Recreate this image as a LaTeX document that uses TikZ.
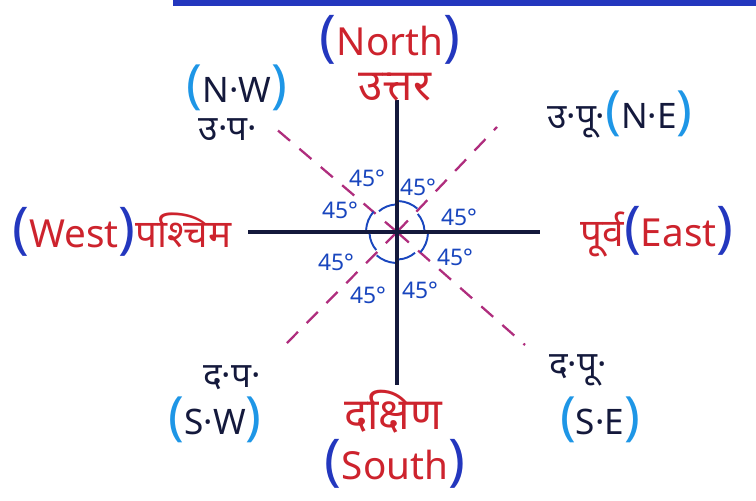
\documentclass[tikz,border=0pt]{standalone}
\usepackage{fontspec}
\setmainfont{Noto Sans}
\newfontfamily\hindi[Script=Devanagari]{Noto Sans}
\usetikzlibrary{calc}
\definecolor{inkred}{RGB}{205,35,45}
\definecolor{inkblue}{RGB}{35,55,190}
\definecolor{inkcyan}{RGB}{30,150,230}
\definecolor{inkmag}{RGB}{175,45,125}
\definecolor{inkdark}{RGB}{20,25,60}
\definecolor{degblue}{RGB}{25,70,190}
\newcommand\bigp[1]{{\fontsize{32}{32}\selectfont\bfseries\textcolor{inkblue}{#1}}}
\newcommand\cyp[1]{{\fontsize{30}{30}\selectfont\bfseries\textcolor{inkcyan}{#1}}}
\newcommand\hin[1]{{\hindi #1}}
\begin{document}
\begin{tikzpicture}[x=0.02cm, y=0.02cm,
  cardlbl/.style={font=\fontsize{22}{24}\selectfont, text=inkred, inner sep=1pt},
  hinlbl/.style={font=\fontsize{25}{26}\selectfont, text=inkred, inner sep=1pt},
  interlbl/.style={font=\fontsize{20}{22}\selectfont, text=inkdark, inner sep=1pt},
  deglbl/.style={font=\fontsize{13}{14}\selectfont, text=degblue, inner sep=0pt},
  axisline/.style={draw=inkdark, line width=2pt},
  diagline/.style={draw=inkmag, line width=1.3pt, dash pattern=on 9pt off 7pt},
  anglearc/.style={draw=degblue, line width=1.1pt}
]
\useasboundingbox (0,0) rectangle (756,500);
\fill[inkblue] (173,494) rectangle (756,500);

\coordinate (c) at (397,268);
\coordinate (up) at (397,400);
\coordinate (dn) at (397,115);
\coordinate (lf) at (248,268);
\coordinate (rt) at (540,268);
\coordinate (nw) at (275,372);
\coordinate (ne) at (497,373);
\coordinate (se) at (525,155);
\coordinate (sw) at (280,150);

\draw[diagline] (c) -- (nw);
\draw[diagline] (c) -- (ne);
\draw[diagline] (c) -- (se);
\draw[diagline] (c) -- (sw);
\draw[axisline] (up) -- (dn);
\draw[axisline] (lf) -- (rt);

% angle arcs
\foreach \a/\r in {90/0.55, 135/0.62, 180/0.55, 225/0.62, 270/0.55, 315/0.62, 0/0.55, 45/0.62} {
  \draw[anglearc] ($(c)+(\a+4:\r cm)$) arc[start angle=\a+4, end angle=\a+41, radius=\r cm];
}

\node[deglbl] (d1) at (367,322) {45°};
\node[deglbl] (d2) at (418,313) {45°};
\node[deglbl] (d3) at (340,290) {45°};
\node[deglbl] (d4) at (459,283) {45°};
\node[deglbl] (d5) at (336,238) {45°};
\node[deglbl] (d6) at (455,243) {45°};
\node[deglbl] (d7) at (368,205) {45°};
\node[deglbl] (d8) at (420,210) {45°};

\node[cardlbl] (north) at (390,460) {\bigp(North\bigp)};
\node[hinlbl] (uttar) at (395,413) {\hin{उत्तर}};
\node[cardlbl] (west) at (122,268) {\bigp(West\bigp)\hin{पश्चिम}};
\node[cardlbl] (east) at (657,268) {\hin{पूर्व}\bigp(East\bigp)};
\node[hinlbl] (dakshin) at (393,88) {\hin{दक्षिण}};
\node[cardlbl] (south) at (395,36) {\bigp(South\bigp)};

\node[interlbl] (nwen) at (237,412) {\cyp(N·W\cyp)};
\node[interlbl] (nwhi) at (228,370) {\hin{उ·प·}};
\node[interlbl] (nehi) at (620,385) {\hin{उ·पू·}\cyp(N·E\cyp)};
\node[interlbl] (swhi) at (232,122) {\hin{द·प·}};
\node[interlbl] (swen) at (215,80) {\cyp(S·W\cyp)};
\node[interlbl] (sehi) at (578,130) {\hin{द·पू·}};
\node[interlbl] (seen) at (600,80) {\cyp(S·E\cyp)};
\end{tikzpicture}
\end{document}
